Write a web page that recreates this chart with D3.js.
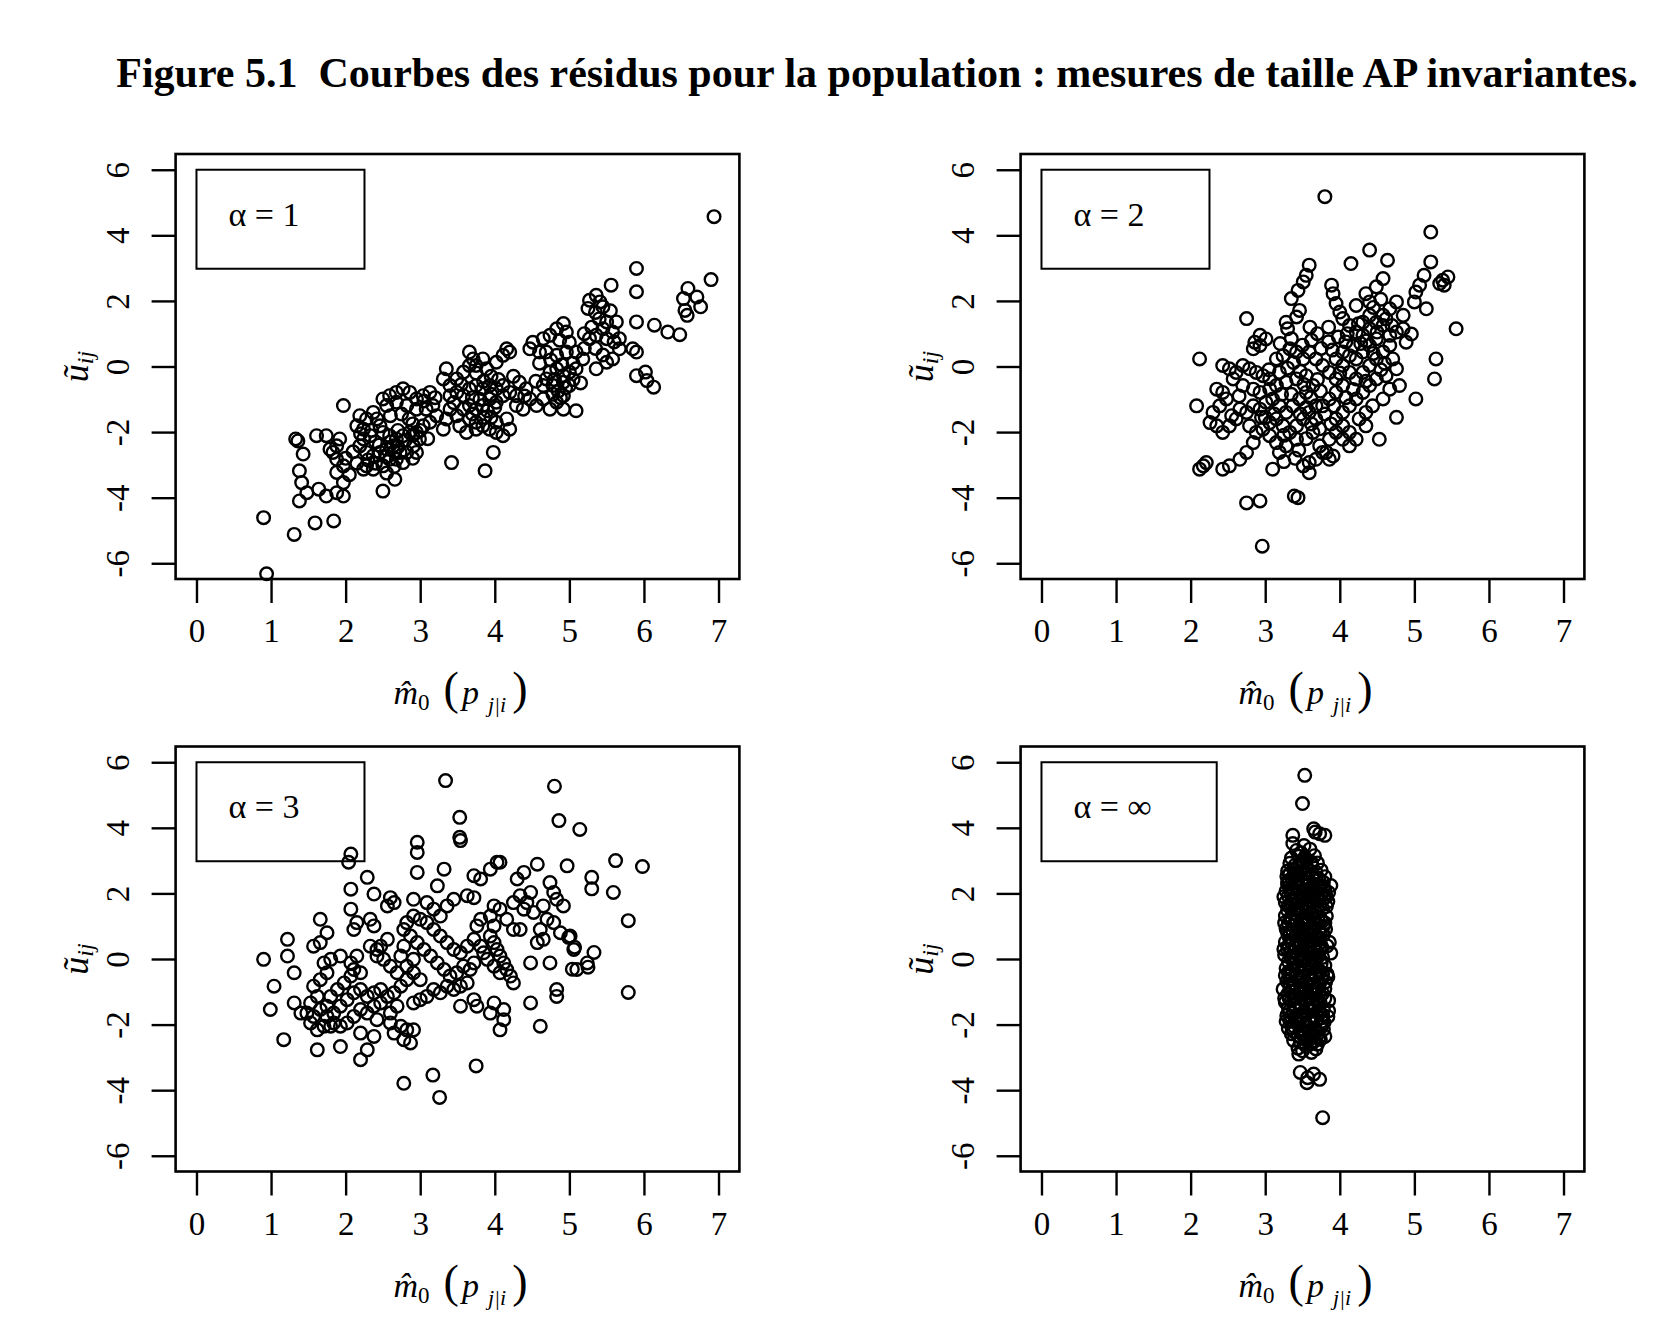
<!DOCTYPE html>
<html>
<head>
<meta charset="utf-8">
<script src="https://cdn.jsdelivr.net/npm/d3@7"></script>
<style>
  body { margin: 0; background: #fff; }
</style>
</head>
<body>
<svg id="chart" width="1673" height="1336"></svg>
<script>
var titleText = 'Figure 5.1  Courbes des résidus pour la population : mesures de taille AP invariantes.';
var xTicks = [0, 1, 2, 3, 4, 5, 6, 7];
var yTicks = [-6, -4, -2, 0, 2, 4, 6];
var panelLabels = ['α = 1', 'α = 2', 'α = 3', 'α = ∞'];

// residuals, alpha = 1  [m0, u]
var alpha1Points = [
  [6.94,4.57],[5.90,2.99],[6.90,2.65],[6.59,2.38],[6.53,2.07],[6.71,2.12],[6.76,1.82],[6.58,1.56],[6.55,1.71],
  [6.14,1.26],[6.32,1.05],[6.48,0.97],[6.04,-0.43],[6.13,-0.63],[6.02,-0.17],
  [5.56,2.48],[5.36,2.17],[5.27,2.02],[5.25,1.77],[5.41,1.97],[5.45,1.82],[5.50,1.36],[5.63,1.36],[5.45,1.15],
  [5.58,1.05],[5.67,0.85],[5.50,0.85],[5.36,0.95],[5.27,0.85],[5.90,1.36],[5.90,2.28],[5.90,0.44],[5.85,0.54],
  [5.90,-0.28],[5.67,0.54],[5.58,0.23],[5.50,0.13],[5.36,-0.07],
  [4.92,1.31],[4.96,1.05],[4.83,1.15],[4.74,0.95],[4.87,0.80],[5.00,0.74],[4.65,0.85],[4.51,0.74],[4.47,0.54],
  [4.60,0.44],[4.69,0.44],[4.83,0.34],[4.96,0.44],[5.09,0.44],[5.18,0.23],[5.09,-0.07],[5.00,-0.17],[4.92,-0.28],
  [4.83,-0.07],[4.74,-0.17],[4.69,-0.38],[4.65,-0.58],[4.78,-0.58],[4.92,-0.48],[5.00,-0.58],[4.92,-0.89],
  [4.83,-1.09],[4.92,-1.30],[5.09,-1.35],[4.74,-1.30],[4.65,-0.99],[4.56,-1.19],[4.47,-0.99],[4.42,-0.68],
  [4.33,-0.48],[4.29,-0.89],[4.20,-0.79],[4.29,-1.19],[4.38,-1.30],
  [4.16,0.54],[4.20,0.44],[4.11,0.34],[4.02,0.13],
  [3.66,0.44],[3.71,0.23],[3.66,0.03],[3.75,0.03],[3.84,0.23],[3.89,-0.07],[3.58,-0.17],[3.49,-0.38],[3.35,-0.07],
  [3.31,-0.38],[3.40,-0.58],[3.49,-0.79],[3.58,-0.89],[3.66,-0.68],[3.75,-0.58],[3.84,-0.68],[3.93,-0.58],
  [4.02,-0.68],[4.11,-0.58],[4.11,-0.89],[4.02,-1.09],[3.93,-0.99],[3.84,-1.19],[3.75,-1.30],[3.66,-1.19],
  [3.58,-1.30],[3.66,-1.60],[3.75,-1.70],[3.84,-1.81],[3.93,-1.91],[4.02,-1.70],[4.16,-1.60],[4.20,-1.91],
  [4.11,-2.11],[4.02,-2.01],[3.75,-1.91],[3.62,-2.01],[3.53,-1.81],[3.49,-1.50],[3.40,-1.30],[3.35,-1.60],
  [3.31,-1.91],[3.40,-0.89],[3.98,-2.62],[3.87,-3.18],[3.42,-2.93],
  [3.13,-0.79],[3.04,-0.89],[2.95,-0.99],[2.86,-0.79],[2.77,-0.68],[2.68,-0.79],[2.59,-0.89],[2.50,-0.99],
  [2.55,-1.19],[2.68,-1.09],[2.82,-1.19],[2.95,-1.30],[3.08,-1.30],[3.17,-1.19],[3.22,-1.50],[3.13,-1.70],
  [3.04,-1.81],[2.95,-2.01],[2.86,-2.01],[2.77,-2.11],[2.68,-2.21],[2.59,-2.11],[2.50,-2.01],[2.46,-1.81],
  [2.42,-1.60],[2.37,-1.40],[2.28,-1.60],[2.19,-1.50],[2.15,-1.81],[2.24,-1.91],[2.33,-2.11],[2.24,-2.21],
  [2.19,-2.42],[2.28,-2.62],[2.37,-2.72],[2.46,-2.62],[2.55,-2.52],[2.64,-2.42],[2.73,-2.62],[2.82,-2.62],
  [2.91,-2.42],[2.99,-2.21],[2.95,-2.62],[2.77,-2.93],[2.68,-2.83],[2.59,-2.83],[2.50,-3.03],[2.28,-3.03],
  [2.24,-3.13],[2.37,-3.13],
  [1.97,-1.19],[1.92,-2.21],[1.88,-2.42],[1.83,-2.62],[1.88,-2.83],[1.97,-3.03],[1.88,-3.23],[1.97,-3.54],
  [1.88,-3.85],[1.97,-3.95],[2.50,-3.80],[2.66,-3.44],
  [0.90,-4.61],[1.31,-5.12],[1.59,-4.77],[1.84,-4.71],[0.94,-6.32],
  [1.33,-2.21],[1.36,-2.27],[1.43,-2.67],[1.38,-3.18],[1.41,-3.54],[1.38,-4.10],[1.48,-3.85],[1.64,-3.74],
  [1.74,-3.95],[1.61,-2.11],[1.74,-2.11],[1.79,-2.52],
  [2.60,-2.30],[2.70,-2.45],[2.80,-2.25],[2.65,-2.60],[2.55,-2.75],[2.45,-2.40],[2.90,-2.10],[3.00,-1.95],
  [2.85,-1.60],[2.75,-1.45],[3.05,-1.05],[3.20,-0.95],[3.85,-0.45],[3.95,-0.85],[3.80,-1.00],[3.70,-0.95],
  [3.90,-1.35],[4.00,-1.25],[3.85,-1.55],[3.95,-0.30],[3.75,-0.20],[4.85,-0.75],[4.95,-0.65],[5.05,-0.40],
  [4.88,-0.95],[4.78,-0.85],[5.20,1.00],[5.30,1.20],[5.40,1.45],[5.35,0.55],[5.45,0.35],[2.35,-1.95],
  [2.40,-2.30],[2.20,-2.05],[2.10,-2.60],[2.00,-2.80],[2.05,-3.30],[2.15,-2.95],[2.30,-2.85],
  [3.45,-1.10],[3.55,-0.55],[3.70,-1.45],[3.95,-1.55],[4.05,-0.40],[4.25,-0.30],[4.40,-0.90],[4.55,-0.45],
  [4.60,0.10],[4.75,0.20],[4.90,0.05],[5.05,0.10],[5.20,0.55],[5.15,-0.50],[4.80,-0.40],[2.60,-1.50],
  [2.70,-1.95],[2.90,-1.75],[3.10,-2.20],[2.40,-2.95],[2.55,-3.25],[2.65,-3.05],[2.90,-2.80],[5.35,1.65],
  [5.55,1.70],[5.60,0.75]
];

// residuals, alpha = 2
var alpha2Points = [
  [3.80,5.18],[2.96,-5.48],[5.22,4.10],
  [4.40,3.55],[4.15,3.14],[4.64,3.24],[5.22,3.19],[5.13,2.78],[5.07,2.48],[5.02,2.27],[5.00,1.97],[5.16,1.76],
  [5.38,2.63],[5.45,2.73],[5.34,2.53],[5.40,2.48],[5.56,1.15],[5.29,0.23],[5.27,-0.38],[5.02,-0.99],[4.76,-1.55],
  [4.53,-2.22],[4.96,0.99],[4.76,1.97],[4.58,2.68],[4.49,2.43],[4.35,2.22],
  [4.67,1.76],[4.58,1.56],[4.49,1.35],[4.40,1.15],[4.31,0.95],[4.22,1.05],[4.31,1.35],[4.40,1.56],[4.58,1.25],
  [4.67,0.95],[4.49,0.84],[4.40,0.64],[4.31,0.44],[4.22,0.23],[4.13,0.33],[4.04,0.44],[3.95,0.23],[4.04,0.03],
  [4.13,-0.18],[4.22,-0.38],[4.31,-0.18],[4.40,0.03],[4.49,0.23],[4.58,0.44],[4.67,0.64],[4.71,0.23],[4.76,-0.07],
  [4.62,-0.28],[4.49,-0.38],[4.40,-0.58],[4.31,-0.79],[4.22,-0.99],[4.13,-1.20],[4.04,-1.40],[3.95,-1.60],
  [4.04,-1.81],[4.13,-2.01],[4.04,-2.22],[3.95,-2.01],[3.86,-2.22],[3.82,-2.62],[3.91,-2.73],[3.73,-2.42],
  [3.64,-2.01],[3.68,-1.60],[3.77,-1.20],[3.86,-0.99],[3.95,-0.79],[4.04,-0.58],[3.95,-0.38],[3.86,-0.18],
  [3.77,0.03],[3.68,0.23],[3.59,0.44],[3.51,0.23],[3.42,0.44],[3.33,0.54],[3.24,0.33],[3.15,0.23],[3.19,-0.18],
  [3.06,-0.38],[2.97,-0.28],[2.88,-0.18],[2.79,-0.07],[2.70,0.03],[2.61,-0.18],[2.52,-0.07],[2.43,0.03],
  [2.57,-0.38],[2.70,-0.58],[2.84,-0.69],[2.93,-0.79],[3.06,-0.69],[3.15,-0.58],[3.28,-0.48],[3.42,-0.38],
  [3.55,-0.28],[3.64,-0.58],[3.55,-0.79],[3.46,-0.99],[3.37,-1.20],[3.28,-1.40],[3.19,-1.20],[3.10,-0.99],
  [3.01,-1.09],[2.93,-1.30],[2.84,-1.20],[2.75,-1.40],[2.66,-1.30],[2.61,-1.60],[2.52,-1.81],[2.43,-2.01],
  [2.35,-1.81],[2.26,-1.71],[2.30,-1.40],[2.39,-1.20],[2.43,-0.79],[2.35,-0.69],[2.48,-0.99],[2.79,-1.81],
  [2.88,-2.01],[2.97,-1.91],[3.06,-1.71],[3.15,-1.60],[3.24,-1.81],[3.33,-2.01],[3.42,-1.81],[3.51,-1.60],
  [3.59,-1.40],[3.68,-1.20],[3.42,-2.22],[3.28,-2.42],[3.15,-2.32],[3.06,-2.11],[3.19,-2.62],[2.84,-2.32],
  [2.75,-2.62],[2.66,-2.83],[2.52,-3.03],[2.43,-3.13],[2.17,-3.03],[2.21,-2.93],[2.12,-3.13],[3.10,-3.13],
  [3.51,-3.03],[3.59,-2.93],[3.68,-2.83],[3.77,-2.62],[3.86,-2.83],[3.59,-3.24],[2.75,-4.16],[2.93,-4.10],
  [3.39,-3.95],[3.44,-4.00],
  [3.89,2.48],[3.91,2.22],[3.95,1.92],[4.00,1.66],[4.04,1.46],[4.13,1.25],[3.59,3.09],[3.55,2.78],[3.51,2.58],
  [3.44,2.32],[3.35,2.07],[3.46,1.71],[3.42,1.51],[3.28,1.35],[3.30,1.15],[2.75,1.46],[2.93,0.95],[2.86,0.74],
  [2.93,0.64],[3.01,0.84],[2.84,0.54],[2.12,0.23],[2.08,-1.20],
  [4.22,1.86],[4.40,1.97],[4.85,1.56],[4.85,1.15],[4.76,1.05],[4.89,0.74],[4.80,-0.58],[4.67,-0.69],[4.58,-0.99],
  [4.44,-1.20],[4.35,-1.40],[4.26,-1.60],[4.35,-1.81],[4.22,-2.22],[4.13,-2.42],
  [3.30,-0.05],[3.38,0.12],[3.47,-0.15],[3.52,-0.55],[3.61,-0.95],[3.70,-0.40],[3.74,-0.75],[3.80,-1.45],
  [3.88,-1.75],[3.73,-1.90],[3.62,-1.75],[3.55,-1.25],[3.47,-1.45],[3.35,-0.85],[3.22,-0.85],[3.12,-1.45],
  [3.00,-1.55],[3.05,-0.10],[3.20,0.70],[3.35,0.85],[3.50,0.65],[3.62,0.80],[3.75,0.55],[3.85,0.75],
  [3.98,0.90],[4.08,0.75],[4.18,0.62],[4.28,0.70],[4.45,0.40],[4.55,-0.10],[4.60,0.10],[4.35,-0.45],
  [4.18,-0.70],[4.08,-0.95],[3.92,-1.20],[4.00,-0.20],[3.90,0.50],[4.10,1.00],[4.25,1.30],[4.45,1.80],
  [4.55,2.05],[4.62,1.45],[4.70,1.25],[4.50,1.05],[4.36,0.78],[3.70,1.00],[3.85,1.20],[3.60,1.20],
  [2.65,-0.90],[2.55,-1.50],[2.95,-1.55],[3.25,-2.10],[3.45,-2.55],[3.55,-2.20],[3.40,-2.80],[3.25,-2.90]
];

// residuals, alpha = 3
var alpha3Points = [
  [3.34,5.44],[4.80,5.27],[3.53,4.32],[3.53,3.71],[4.86,4.22],[5.14,3.95],[5.62,3.00],[5.98,2.82],[5.30,2.49],
  [5.30,2.14],[5.59,2.03],[5.79,1.17],[5.33,0.20],[5.25,-0.25],[5.04,-0.31],[5.07,0.36],[4.99,0.66],[5.79,-1.02],
  [2.78,-3.79],[3.17,-3.54],[3.26,-4.22],[3.75,-3.26],
  [4.30,2.44],[4.39,2.64],[4.57,2.89],[4.48,2.03],[4.34,1.93],[4.25,1.72],[4.43,1.72],[4.39,1.52],[4.52,1.42],
  [4.65,1.62],[4.74,2.33],[4.79,2.03],[4.83,1.82],[4.92,1.62],[4.97,2.84],[4.70,1.21],[4.61,0.90],[4.65,0.60],
  [4.57,0.50],[4.79,1.11],[4.88,0.80],[5.01,0.70],[5.06,0.29],[5.10,-0.32],[5.24,-0.12],[4.74,-0.12],[4.48,-0.12],
  [4.83,-0.93],[4.83,-1.14],[4.61,-2.05],[4.25,0.90],[4.34,0.90],[4.16,1.21],[4.07,1.52],[3.99,1.62],[3.94,1.31],
  [3.99,1.01],[3.81,1.21],[3.76,1.01],[3.94,0.70],[3.99,0.50],[4.03,0.29],[4.07,0.09],[4.12,-0.12],[4.16,-0.32],
  [4.21,-0.52],[4.25,-0.73],[4.07,-0.42],[3.99,-0.22],[3.90,-0.01],[3.85,0.19],[3.81,0.39],[3.72,0.60],[3.63,0.39],
  [3.54,0.19],[3.45,0.29],[3.36,0.50],[3.27,0.70],[3.18,0.90],[3.09,1.11],[3.00,1.21],[2.91,1.31],[2.82,1.11],
  [2.78,0.90],[2.87,0.70],[2.96,0.50],[3.05,0.29],[3.14,0.09],[3.23,-0.12],[3.32,-0.32],[3.40,-0.52],[3.49,-0.42],
  [3.58,-0.22],[3.67,-0.32],[3.72,-0.12],[3.63,-0.73],[3.54,-0.83],[3.45,-0.93],[3.36,-0.83],[3.27,-1.03],
  [3.18,-0.93],[3.09,-1.14],[3.00,-1.24],[2.91,-1.34],[3.00,-0.63],[2.91,-0.42],[2.82,-0.63],[2.74,-0.83],
  [2.65,-1.03],[2.69,-0.42],[2.60,-0.22],[2.51,-0.01],[2.42,0.29],[2.47,0.39],[2.78,0.39],[2.74,0.09],[2.82,-0.22],
  [2.91,-0.01],[3.99,-1.34],[3.72,-1.24],[3.76,-1.44],[3.54,-1.44],[4.12,-1.54],[4.12,-1.85],[4.07,-2.16],
  [3.94,-1.65],[4.48,-1.34],
  [2.07,-0.12],[2.11,-0.32],[2.15,0.09],[2.20,-0.42],[2.07,-0.52],[1.98,-0.73],[1.89,-0.93],[1.80,-1.14],
  [1.75,-1.44],[1.84,-1.65],[1.93,-1.44],[2.02,-1.24],[2.11,-1.03],[2.20,-0.93],[2.29,-1.14],[2.38,-1.03],
  [2.47,-0.93],[2.56,-1.14],[2.47,-1.34],[2.38,-1.44],[2.29,-1.65],[2.20,-1.54],[2.11,-1.75],[2.02,-1.95],
  [1.93,-2.05],[1.84,-1.95],[1.75,-1.75],[1.66,-1.54],[1.57,-1.75],[1.48,-1.65],[1.53,-1.34],[1.62,-1.14],
  [1.57,-0.83],[1.66,-0.63],[1.75,-0.42],[1.80,-0.01],[1.93,0.09],[1.71,-0.12],[1.66,0.50],[1.75,0.80],
  [1.66,1.21],[1.57,0.39],[1.40,-1.65],[1.53,-1.95],[1.62,-2.16],[1.71,-2.05],[1.80,-2.05],[1.31,-1.34],
  [1.22,0.60],[1.22,0.09],[1.31,-0.42],[1.04,-0.83],[0.99,-1.54],[0.90,-0.01],[1.17,-2.46],[1.62,-2.77],
  [1.93,-2.67],[2.20,-3.07],[2.29,-2.77],[2.38,-2.36],[2.20,-2.26],[2.42,-1.85],[2.60,-1.95],[2.65,-2.26],
  [2.74,-2.05],[2.82,-2.16],[2.91,-2.16],[2.87,-2.56],[2.78,-2.46],[2.60,-1.65],[2.69,-1.44],[2.11,0.90],
  [2.15,1.11],[2.33,1.21],[2.38,1.01],[2.07,1.52],[2.56,0.60],[2.33,0.39],[2.42,0.09],
  [2.07,3.20],[2.04,2.95],[2.96,3.56],[2.96,3.25],[2.96,2.64],[3.54,3.61],[3.32,2.74],[2.29,2.49],[2.07,2.13],
  [2.38,1.98],[2.60,1.87],[2.65,1.72],[2.56,1.62],[2.91,1.82],[3.23,2.23],[3.09,1.72],[3.18,1.52],[3.27,1.31],
  [3.36,1.62],[3.45,1.82],[3.72,2.54],[3.63,1.93],[3.72,1.87],[3.81,2.44],[3.94,2.74],[4.03,2.95],[4.07,2.95]
];

// residuals, alpha = infinity
var alphaInfPoints = [
  [3.53,5.60],[3.50,4.74],[3.65,3.97],[3.73,3.82],[3.80,3.77],[3.67,3.87],[3.37,3.77],
  [3.47,-3.46],[3.57,-3.62],[3.73,-3.67],[3.65,-3.51],[3.56,-3.77],[3.77,-4.84],
  [3.37,3.52],[3.52,3.46],[3.42,3.31],[3.48,3.24],[3.60,3.35],
  [3.35,3.08],[3.45,3.13],[3.56,3.02],[3.66,3.15],
  [3.33,2.92],[3.40,2.86],[3.51,2.95],[3.62,2.88],[3.70,2.93],
  [3.30,2.68],[3.38,2.74],[3.47,2.66],[3.58,2.72],[3.68,2.65],[3.75,2.71],
  [3.29,2.52],[3.36,2.45],[3.44,2.55],[3.55,2.48],[3.64,2.53],[3.72,2.44],[3.80,2.51],
  [3.30,2.28],[3.41,2.33],[3.50,2.26],[3.60,2.31],[3.69,2.27],[3.78,2.34],[3.88,2.24],
  [3.28,2.07],[3.35,2.13],[3.46,2.05],[3.57,2.12],[3.66,2.08],[3.74,2.14],[3.85,2.03],
  [3.31,1.92],[3.40,1.86],[3.52,1.93],[3.61,1.88],[3.70,1.95],[3.79,1.87],
  [3.27,1.72],[3.36,1.66],[3.45,1.74],[3.55,1.68],[3.64,1.73],[3.73,1.65],[3.84,1.75],
  [3.30,1.48],[3.39,1.53],[3.50,1.46],[3.59,1.52],[3.67,1.47],[3.77,1.54],
  [3.27,1.32],[3.34,1.26],[3.44,1.33],[3.53,1.27],[3.63,1.34],[3.71,1.28],[3.82,1.31],
  [3.31,1.08],[3.41,1.13],[3.49,1.06],[3.58,1.12],[3.68,1.07],[3.76,1.14],
  [3.28,0.92],[3.37,0.86],[3.46,0.93],[3.55,0.87],[3.62,0.94],[3.72,0.88],[3.81,0.91],
  [3.32,0.68],[3.42,0.73],[3.51,0.66],[3.60,0.72],[3.69,0.67],[3.78,0.74],
  [3.27,0.52],[3.36,0.46],[3.45,0.53],[3.54,0.47],[3.64,0.54],[3.73,0.48],[3.86,0.51],
  [3.30,0.28],[3.40,0.33],[3.49,0.26],[3.58,0.32],[3.67,0.27],[3.76,0.34],
  [3.26,0.12],[3.35,0.06],[3.44,0.13],[3.53,0.07],[3.62,0.14],[3.71,0.08],[3.88,0.18],
  [3.31,-0.08],[3.39,-0.13],[3.48,-0.06],[3.57,-0.12],[3.66,-0.07],[3.75,-0.14],[3.83,-0.46],
  [3.28,-0.28],[3.36,-0.33],[3.45,-0.26],[3.54,-0.32],[3.63,-0.27],[3.72,-0.34],
  [3.32,-0.52],[3.41,-0.47],[3.50,-0.54],[3.59,-0.48],[3.68,-0.53],[3.77,-0.46],[3.84,-0.55],
  [3.29,-0.68],[3.37,-0.73],[3.46,-0.66],[3.55,-0.72],[3.64,-0.67],[3.73,-0.74],
  [3.24,-0.92],[3.33,-0.86],[3.42,-0.93],[3.51,-0.87],[3.60,-0.94],[3.70,-0.88],[3.80,-0.91],
  [3.30,-1.08],[3.38,-1.13],[3.47,-1.06],[3.56,-1.12],[3.65,-1.07],[3.74,-1.14],
  [3.27,-1.32],[3.35,-1.26],[3.44,-1.33],[3.53,-1.27],[3.62,-1.34],[3.71,-1.28],[3.85,-1.27],
  [3.31,-1.48],[3.40,-1.53],[3.49,-1.46],[3.58,-1.52],[3.67,-1.47],[3.78,-1.54],[3.85,-1.58],
  [3.29,-1.72],[3.37,-1.66],[3.46,-1.74],[3.55,-1.68],[3.64,-1.73],[3.73,-1.65],[3.84,-1.76],
  [3.33,-1.88],[3.42,-1.93],[3.51,-1.86],[3.60,-1.92],[3.69,-1.87],[3.79,-1.94],
  [3.31,-2.12],[3.39,-2.06],[3.48,-2.13],[3.57,-2.07],[3.66,-2.14],[3.75,-2.08],
  [3.35,-2.28],[3.44,-2.33],[3.53,-2.26],[3.62,-2.32],[3.71,-2.27],[3.80,-2.36],
  [3.38,-2.48],[3.47,-2.53],[3.56,-2.46],[3.65,-2.52],[3.74,-2.45],
  [3.44,-2.72],[3.55,-2.66],[3.68,-2.74],
  [3.33,2.60],[3.50,2.40],[3.62,2.18],[3.42,2.00],[3.57,1.80],[3.34,1.57],[3.48,1.38],[3.66,1.20],
  [3.38,1.00],[3.52,0.80],[3.70,0.60],[3.40,0.40],[3.56,0.20],[3.68,0.00],[3.44,-0.20],[3.60,-0.40],
  [3.35,-0.60],[3.50,-0.80],[3.66,-1.00],[3.42,-1.20],[3.56,-1.40],[3.72,-1.60],[3.40,-1.80],[3.55,-2.00],
  [3.68,-2.20],[3.48,-2.40],[3.60,-2.60],[3.80,2.10],[3.82,1.60],[3.80,1.10],[3.83,0.40],[3.80,-0.20],
  [3.81,-0.70],[3.80,-1.20],[3.76,-1.90],[3.25,1.90],[3.26,1.10],[3.25,0.30],[3.27,-0.50],[3.26,-1.20],
  [3.28,-1.90],[3.46,2.90],[3.58,2.60],[3.53,3.10],[3.62,2.95],
  [3.32,2.40],[3.45,2.20],[3.58,2.00],[3.71,1.80],[3.36,1.80],[3.49,1.60],[3.62,1.40],[3.75,1.20],
  [3.33,1.20],[3.46,1.00],[3.59,0.80],[3.74,0.60],[3.30,0.80],[3.43,0.60],[3.57,0.40],[3.70,0.20],
  [3.34,0.20],[3.47,0.00],[3.61,-0.20],[3.74,-0.40],[3.31,-0.40],[3.45,-0.60],[3.58,-0.80],[3.72,-1.00],
  [3.34,-1.00],[3.48,-1.20],[3.61,-1.60],[3.75,-1.80],[3.32,-1.60],[3.46,-1.90],[3.59,-2.20],[3.72,-2.40],
  [3.36,-2.10],[3.50,-2.30],[3.63,-2.40],[3.40,2.60],[3.55,2.80],[3.68,2.50],[3.78,2.20],[3.82,1.90],
  [3.52,2.10],[3.64,1.60],[3.40,1.40],[3.55,1.10],[3.66,0.90],[3.42,0.80],[3.53,0.60],[3.65,0.40],
  [3.38,0.10],[3.52,-0.20],[3.66,-0.50],[3.40,-0.80],[3.54,-1.00],[3.68,-1.20],[3.39,-1.40],[3.52,-1.60],
  [3.66,-1.80],[3.44,-2.00],[3.58,-2.40],[3.70,-2.60],[3.50,-2.80],[3.62,-2.85],[3.45,-2.90],
  [3.30,2.35],[3.43,2.45],[3.56,2.35],[3.69,2.40],[3.35,2.00],[3.48,1.90],[3.62,2.05],[3.75,1.95],
  [3.31,1.62],[3.44,1.55],[3.57,1.60],[3.70,1.50],[3.36,1.20],[3.51,1.15],[3.64,1.25],[3.78,1.00],
  [3.33,0.82],[3.47,0.75],[3.60,0.90],[3.74,0.80],[3.31,0.40],[3.46,0.35],[3.60,0.55],[3.75,0.40],
  [3.35,0.00],[3.50,0.15],[3.63,-0.05],[3.77,0.05],[3.33,-0.40],[3.48,-0.35],[3.62,-0.60],[3.76,-0.60],
  [3.34,-0.80],[3.49,-1.00],[3.63,-0.85],[3.77,-1.05],[3.32,-1.20],[3.46,-1.40],[3.60,-1.20],[3.74,-1.35],
  [3.35,-1.75],[3.50,-1.75],[3.63,-1.55],[3.77,-1.70],[3.38,-2.20],[3.52,-2.05],[3.66,-2.30],[3.78,-2.15]
];

var serif = '"Liberation Serif", "Times New Roman", serif';
var plotW = 563.8, plotH = 425;
var xDomain = [-0.28, 7.28], yDomain = [-6.48, 6.48];

var svg = d3.select('#chart');
svg.append('rect').attr('width', 1673).attr('height', 1336).attr('fill', '#fff');

svg.append('text')
  .attr('x', 877)
  .attr('y', 87)
  .attr('text-anchor', 'middle')
  .attr('font-family', serif)
  .attr('font-weight', 'bold')
  .attr('font-size', 42)
  .style('white-space', 'pre')
  .text(titleText);

function drawPanel(points, label, left, top) {
  var g = svg.append('g').attr('transform', 'translate(' + left + ',' + top + ')');

  var x = d3.scaleLinear().domain(xDomain).range([0, plotW]);
  var y = d3.scaleLinear().domain(yDomain).range([plotH, 0]);

  g.append('g')
    .selectAll('circle')
    .data(points)
    .join('circle')
      .attr('cx', function(d) { return x(d[0]); })
      .attr('cy', function(d) { return y(d[1]); })
      .attr('r', 6.3)
      .attr('fill', 'none')
      .attr('stroke', '#000')
      .attr('stroke-width', 2.4);

  g.append('rect')
    .attr('width', plotW)
    .attr('height', plotH)
    .attr('fill', 'none')
    .attr('stroke', '#000')
    .attr('stroke-width', 2.6);

  var xAxis = d3.axisBottom(x)
    .tickValues(xTicks)
    .tickSize(24)
    .tickPadding(16)
    .tickFormat(function(d) { return String(d); });

  var xg = g.append('g')
    .attr('transform', 'translate(0,' + plotH + ')')
    .call(xAxis)
    .attr('font-family', serif)
    .attr('font-size', 33);
  xg.select('.domain').remove();
  xg.selectAll('line').attr('stroke-width', 2.4);

  var yAxis = d3.axisLeft(y)
    .tickValues(yTicks)
    .tickSize(24)
    .tickFormat(function(d) { return String(d); });

  var yg = g.append('g')
    .call(yAxis)
    .attr('font-family', serif)
    .attr('font-size', 33);
  yg.select('.domain').remove();
  yg.selectAll('line').attr('stroke-width', 2.4);
  yg.selectAll('text')
    .attr('x', null)
    .attr('dy', null)
    .attr('text-anchor', 'middle')
    .attr('transform', 'translate(-47,0) rotate(-90)');

  // y title: u tilde ij
  var yt = g.append('text')
    .attr('transform', 'translate(-88,' + (plotH / 2) + ') rotate(-90)')
    .attr('text-anchor', 'middle')
    .attr('font-family', serif)
    .attr('font-style', 'italic');
  yt.append('tspan').attr('font-size', 36).text('ũ');
  yt.append('tspan').attr('font-size', 24).attr('dy', 5).text('ij');

  // x title: m hat 0 (p j|i)
  var xt = g.append('text')
    .attr('x', plotW / 2 + 3)
    .attr('y', plotH + 125)
    .attr('text-anchor', 'middle')
    .attr('font-family', serif);
  xt.append('tspan').attr('font-size', 34).attr('font-style', 'italic').text('m\u0302');
  xt.append('tspan').attr('font-size', 23).attr('dy', 6).text('0');
  xt.append('tspan').attr('font-size', 46).attr('dy', -6).attr('dx', 14).text('(');
  xt.append('tspan').attr('font-size', 34).attr('font-style', 'italic').attr('dx', 3).text('p');
  xt.append('tspan').attr('font-size', 22).attr('font-style', 'italic').attr('dy', 8).attr('dx', 9).text('j|i');
  xt.append('tspan').attr('font-size', 46).attr('dy', -8).attr('dx', 6).text(')');

  // legend box
  var lx = x(0), ly = y(6);
  var lt = g.append('text')
    .attr('x', lx + 32)
    .attr('y', ly + 56)
    .attr('font-family', serif)
    .attr('font-size', 34)
    .text(label);
  var tw = lt.node().getComputedTextLength();
  g.append('rect')
    .attr('x', lx)
    .attr('y', ly)
    .attr('width', tw + 97)
    .attr('height', 99)
    .attr('fill', 'none')
    .attr('stroke', '#000')
    .attr('stroke-width', 2);
}

drawPanel(alpha1Points, panelLabels[0], 175.6, 154);
drawPanel(alpha2Points, panelLabels[1], 1020.6, 154);
drawPanel(alpha3Points, panelLabels[2], 175.6, 746.5);
drawPanel(alphaInfPoints, panelLabels[3], 1020.6, 746.5);
</script>
</body>
</html>
